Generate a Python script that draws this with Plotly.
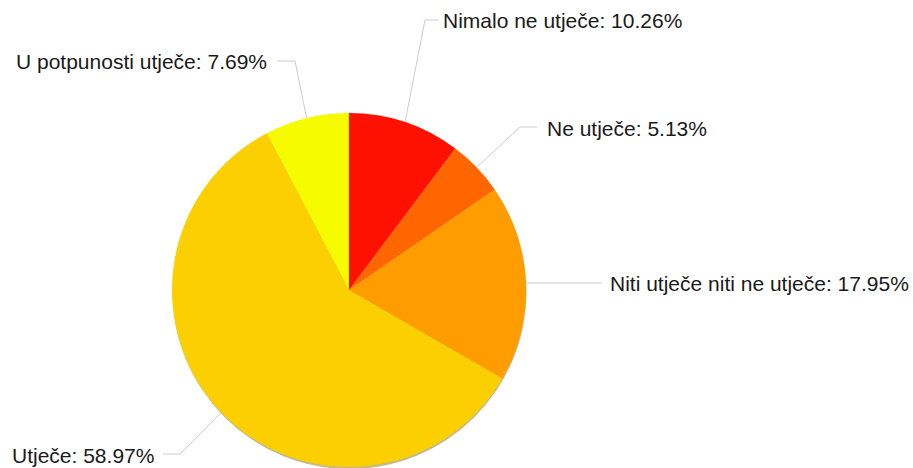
import math
import plotly.graph_objects as go

# ---- data ----
categories = ["Nimalo ne utječe", "Ne utječe", "Niti utječe niti ne utječe",
              "Utječe", "U potpunosti utječe"]
values = [10.26, 5.13, 17.95, 58.97, 7.69]
label_texts = [f"{c}: {v:.2f}%" for c, v in zip(categories, values)]

# ---- style / layout ----
colors = ["#FF1100", "#FF6600", "#FF9C00", "#FCD000", "#F7FB00"]
W, H = 913, 468
CX, CY, R = 349, 290, 177          # pie centre / radius in pixels
# label anchor per slice: (elbow_x, elbow_y, line_end_x, text_x, side)
label_layout = [
    (425, 20, 439, 441, "left"),
    (520, 127, 537, 545, "left"),
    (None, None, 602, 608, "left"),
    (180, 454, 163, 156, "right"),
    (295, 61, 277, 269, "right"),
]

def px(x):
    return x / W

def py(y):
    return 1 - y / H

fig = go.Figure()
fig.add_trace(go.Pie(
    labels=categories, values=values, sort=False, direction="clockwise",
    rotation=0, textinfo="none", hoverinfo="label+percent",
    marker=dict(colors=colors, line=dict(width=0)),
    domain=dict(x=[px(CX - R), px(CX + R)], y=[py(CY + R), py(CY - R)]),
    showlegend=False,
))

shapes = []
# subtle shadow under the pie
shapes.append(dict(type="circle", xref="paper", yref="paper", layer="below",
                   x0=px(CX - R + 0.5), x1=px(CX + R + 0.5),
                   y0=py(CY + R + 2), y1=py(CY - R + 1),
                   fillcolor="rgba(120,100,0,0.45)", line=dict(width=0)))

annotations = []
total = sum(values)
cum = 0.0
for v, txt, (ex, ey, lx, tx, side) in zip(values, label_texts, label_layout):
    mid = (cum + v / 2) / total * 2 * math.pi
    cum += v
    sx = CX + R * math.sin(mid)
    sy = CY - R * math.cos(mid)
    if ex is None:
        ex, ey = sx, sy
    path = f"M {px(sx)} {py(sy)} L {px(ex)} {py(ey)} L {px(lx)} {py(ey)}"
    shapes.append(dict(type="path", xref="paper", yref="paper", path=path,
                       line=dict(color="#cccccc", width=1)))
    annotations.append(dict(x=px(tx), y=py(ey + 1), xref="paper", yref="paper",
                            text=txt, showarrow=False, xanchor=side,
                            yanchor="middle",
                            font=dict(family="Liberation Sans, Arial, sans-serif",
                                      size=21, color="#1a1a1a")))

fig.update_layout(
    width=W, height=H, margin=dict(l=0, r=0, t=0, b=0),
    paper_bgcolor="white", plot_bgcolor="white",
    shapes=shapes, annotations=annotations,
)
fig.write_html("out.html", config={"displayModeBar": False},
               post_script="document.body.style.margin='0';document.body.style.overflow='hidden';")
